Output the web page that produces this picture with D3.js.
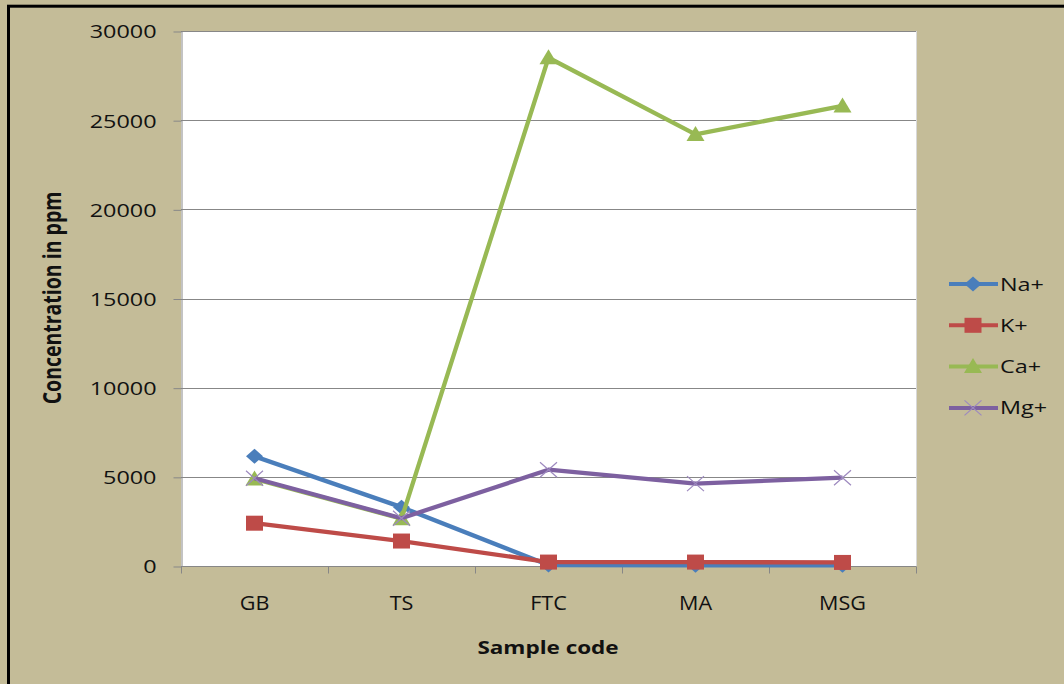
<!DOCTYPE html>
<html>
<head>
<meta charset="utf-8">
<script src="https://cdn.jsdelivr.net/npm/d3@7"></script>
<style>
  html, body { margin: 0; padding: 0; background: #c4bc98; }
  svg { display: block; }
  text { font-family: "Open Sans", "DejaVu Sans", sans-serif; fill: #111; }
</style>
</head>
<body>
<svg id="chart" width="1064" height="684"></svg>
<script>
// Sample codes along the x axis
const categories = ["GB", "TS", "FTC", "MA", "MSG"];

// Cation concentrations (ppm) per sample
const naValues = [6150, 3300, 50, 40, 40];
const kValues  = [2400, 1400, 220, 220, 200];
const caValues = [4880, 2650, 28500, 24200, 25800];
const mgValues = [4920, 2680, 5400, 4620, 4950];

// Y axis tick values
const yTicks = [0, 5000, 10000, 15000, 20000, 25000, 30000];

const seriesNames = ["Na+", "K+", "Ca+", "Mg+"];
const seriesColors = ["#4a7ebb", "#be4b48", "#98b954", "#7d60a0"];
const seriesMarkers = ["diamond", "square", "triangle", "cross"];
const seriesValues = [naValues, kValues, caValues, mgValues];

const series = seriesNames.map((name, i) => ({
  name, color: seriesColors[i], marker: seriesMarkers[i], values: seriesValues[i]
}));

const svg = d3.select("#chart");
const W = 1064, H = 684;
const plot = { left: 181, top: 31, right: 916, bottom: 566 };
const stretch = 1.3;

// Background and outer frame
svg.append("rect").attr("width", W).attr("height", H).attr("fill", "#c4bc98");
svg.append("rect")
  .attr("x", 8.5).attr("y", 6.2).attr("width", W + 20).attr("height", H + 20)
  .attr("fill", "none").attr("stroke", "#000").attr("stroke-width", 3);

// Plot area
svg.append("rect")
  .attr("x", plot.left).attr("y", plot.top)
  .attr("width", plot.right - plot.left).attr("height", plot.bottom - plot.top)
  .attr("fill", "#fff");

const x = d3.scaleBand().domain(categories).range([plot.left, plot.right]).padding(0);
const y = d3.scaleLinear().domain([0, 30000]).range([plot.bottom, plot.top]);
const cx = d => x(d) + x.bandwidth() / 2;

// Horizontal gridlines
svg.append("g").selectAll("line").data(yTicks.filter(t => t > 0)).join("line")
  .attr("x1", plot.left).attr("x2", plot.right)
  .attr("y1", d => Math.round(y(d)) + 0.5).attr("y2", d => Math.round(y(d)) + 0.5)
  .attr("stroke", "#878787").attr("stroke-width", 1);

// Right edge of plot area
svg.append("line")
  .attr("x1", plot.right + 0.5).attr("x2", plot.right + 0.5)
  .attr("y1", plot.top).attr("y2", plot.bottom)
  .attr("stroke", "#d8d8d8").attr("stroke-width", 1);

// Y axis
const yAxis = svg.append("g")
  .attr("transform", `translate(${plot.left + 0.5},0.5)`)
  .call(d3.axisLeft(y).tickValues(yTicks).tickSize(8).tickSizeOuter(0).tickFormat(d3.format("d")));
yAxis.select(".domain").attr("stroke", "#878787");
yAxis.selectAll(".tick line").attr("stroke", "#878787");
yAxis.selectAll(".tick text")
  .attr("x", -25 / stretch).attr("dy", "0.36em")
  .attr("transform", `scale(${stretch},1)`)
  .style("font-size", "18px").style("fill", "#111");

// X axis with tick marks on category boundaries
const xAxisG = svg.append("g").attr("transform", `translate(0,${Math.round(plot.bottom) + 0.5})`);
xAxisG.append("line").attr("x1", plot.left).attr("x2", plot.right)
  .attr("stroke", "#878787");
const boundaries = categories.map(c => x(c)).concat([x(categories[categories.length - 1]) + x.bandwidth()]);
xAxisG.selectAll("line.tk").data(boundaries).join("line").attr("class", "tk")
  .attr("x1", d => Math.round(d) + 0.5).attr("x2", d => Math.round(d) + 0.5)
  .attr("y1", 0).attr("y2", 7).attr("stroke", "#878787");
svg.append("g").selectAll("text").data(categories).join("text")
  .attr("transform", d => `translate(${cx(d)},610) scale(1.2,1.08)`)
  .attr("text-anchor", "middle")
  .style("font-size", "18px")
  .text(d => d);

// Axis titles
svg.append("text")
  .attr("transform", `translate(548,654) scale(1.25,1)`)
  .attr("text-anchor", "middle")
  .style("font-size", "18px").style("font-weight", "bold")
  .text("Sample code");
svg.append("text")
  .attr("transform", `translate(61,298) scale(1.25,1) rotate(-90)`)
  .attr("text-anchor", "middle")
  .style("font-size", "19.5px").style("font-weight", "bold")
  .text("Concentration in ppm");

// Marker drawing
function drawMarker(g, type, color, px, py) {
  if (type === "diamond") {
    g.append("path")
      .attr("d", `M${px},${py - 7.5}L${px + 8.5},${py}L${px},${py + 7.5}L${px - 8.5},${py}Z`)
      .attr("fill", color);
  } else if (type === "square") {
    g.append("rect").attr("x", px - 8.5).attr("y", py - 7.5).attr("width", 17).attr("height", 15)
      .attr("fill", color);
  } else if (type === "triangle") {
    g.append("path")
      .attr("d", `M${px},${py - 8.5}L${px + 9},${py + 6.5}L${px - 9},${py + 6.5}Z`)
      .attr("fill", color);
  } else if (type === "cross") {
    g.append("path")
      .attr("d", `M${px - 8.5},${py - 7.5}L${px + 8.5},${py + 7.5}M${px - 8.5},${py + 7.5}L${px + 8.5},${py - 7.5}`)
      .attr("stroke", "#9d89bf").attr("stroke-width", 1.2).attr("fill", "none");
  }
}

// Series lines and markers
const line = d3.line().x(d => cx(d.cat)).y(d => y(d.v));
series.forEach(s => {
  const pts = categories.map((c, i) => ({ cat: c, v: s.values[i] }));
  const g = svg.append("g");
  g.append("path").datum(pts).attr("d", line)
    .attr("fill", "none").attr("stroke", s.color).attr("stroke-width", 4.3)
    .attr("stroke-linejoin", "round");
  pts.forEach(p => drawMarker(g, s.marker, s.color, cx(p.cat), y(p.v)));
});

// Legend
const legend = svg.append("g");
series.forEach((s, i) => {
  const ly = 284 + i * 41.3;
  const g = legend.append("g");
  g.append("line").attr("x1", 949).attr("x2", 998).attr("y1", ly).attr("y2", ly)
    .attr("stroke", s.color).attr("stroke-width", 4);
  drawMarker(g, s.marker, s.color, 973, ly);
  g.append("text")
    .attr("transform", `translate(1000,${ly + 6.5}) scale(${stretch},1)`)
    .style("font-size", "18px")
    .text(s.name);
});
</script>
</body>
</html>
